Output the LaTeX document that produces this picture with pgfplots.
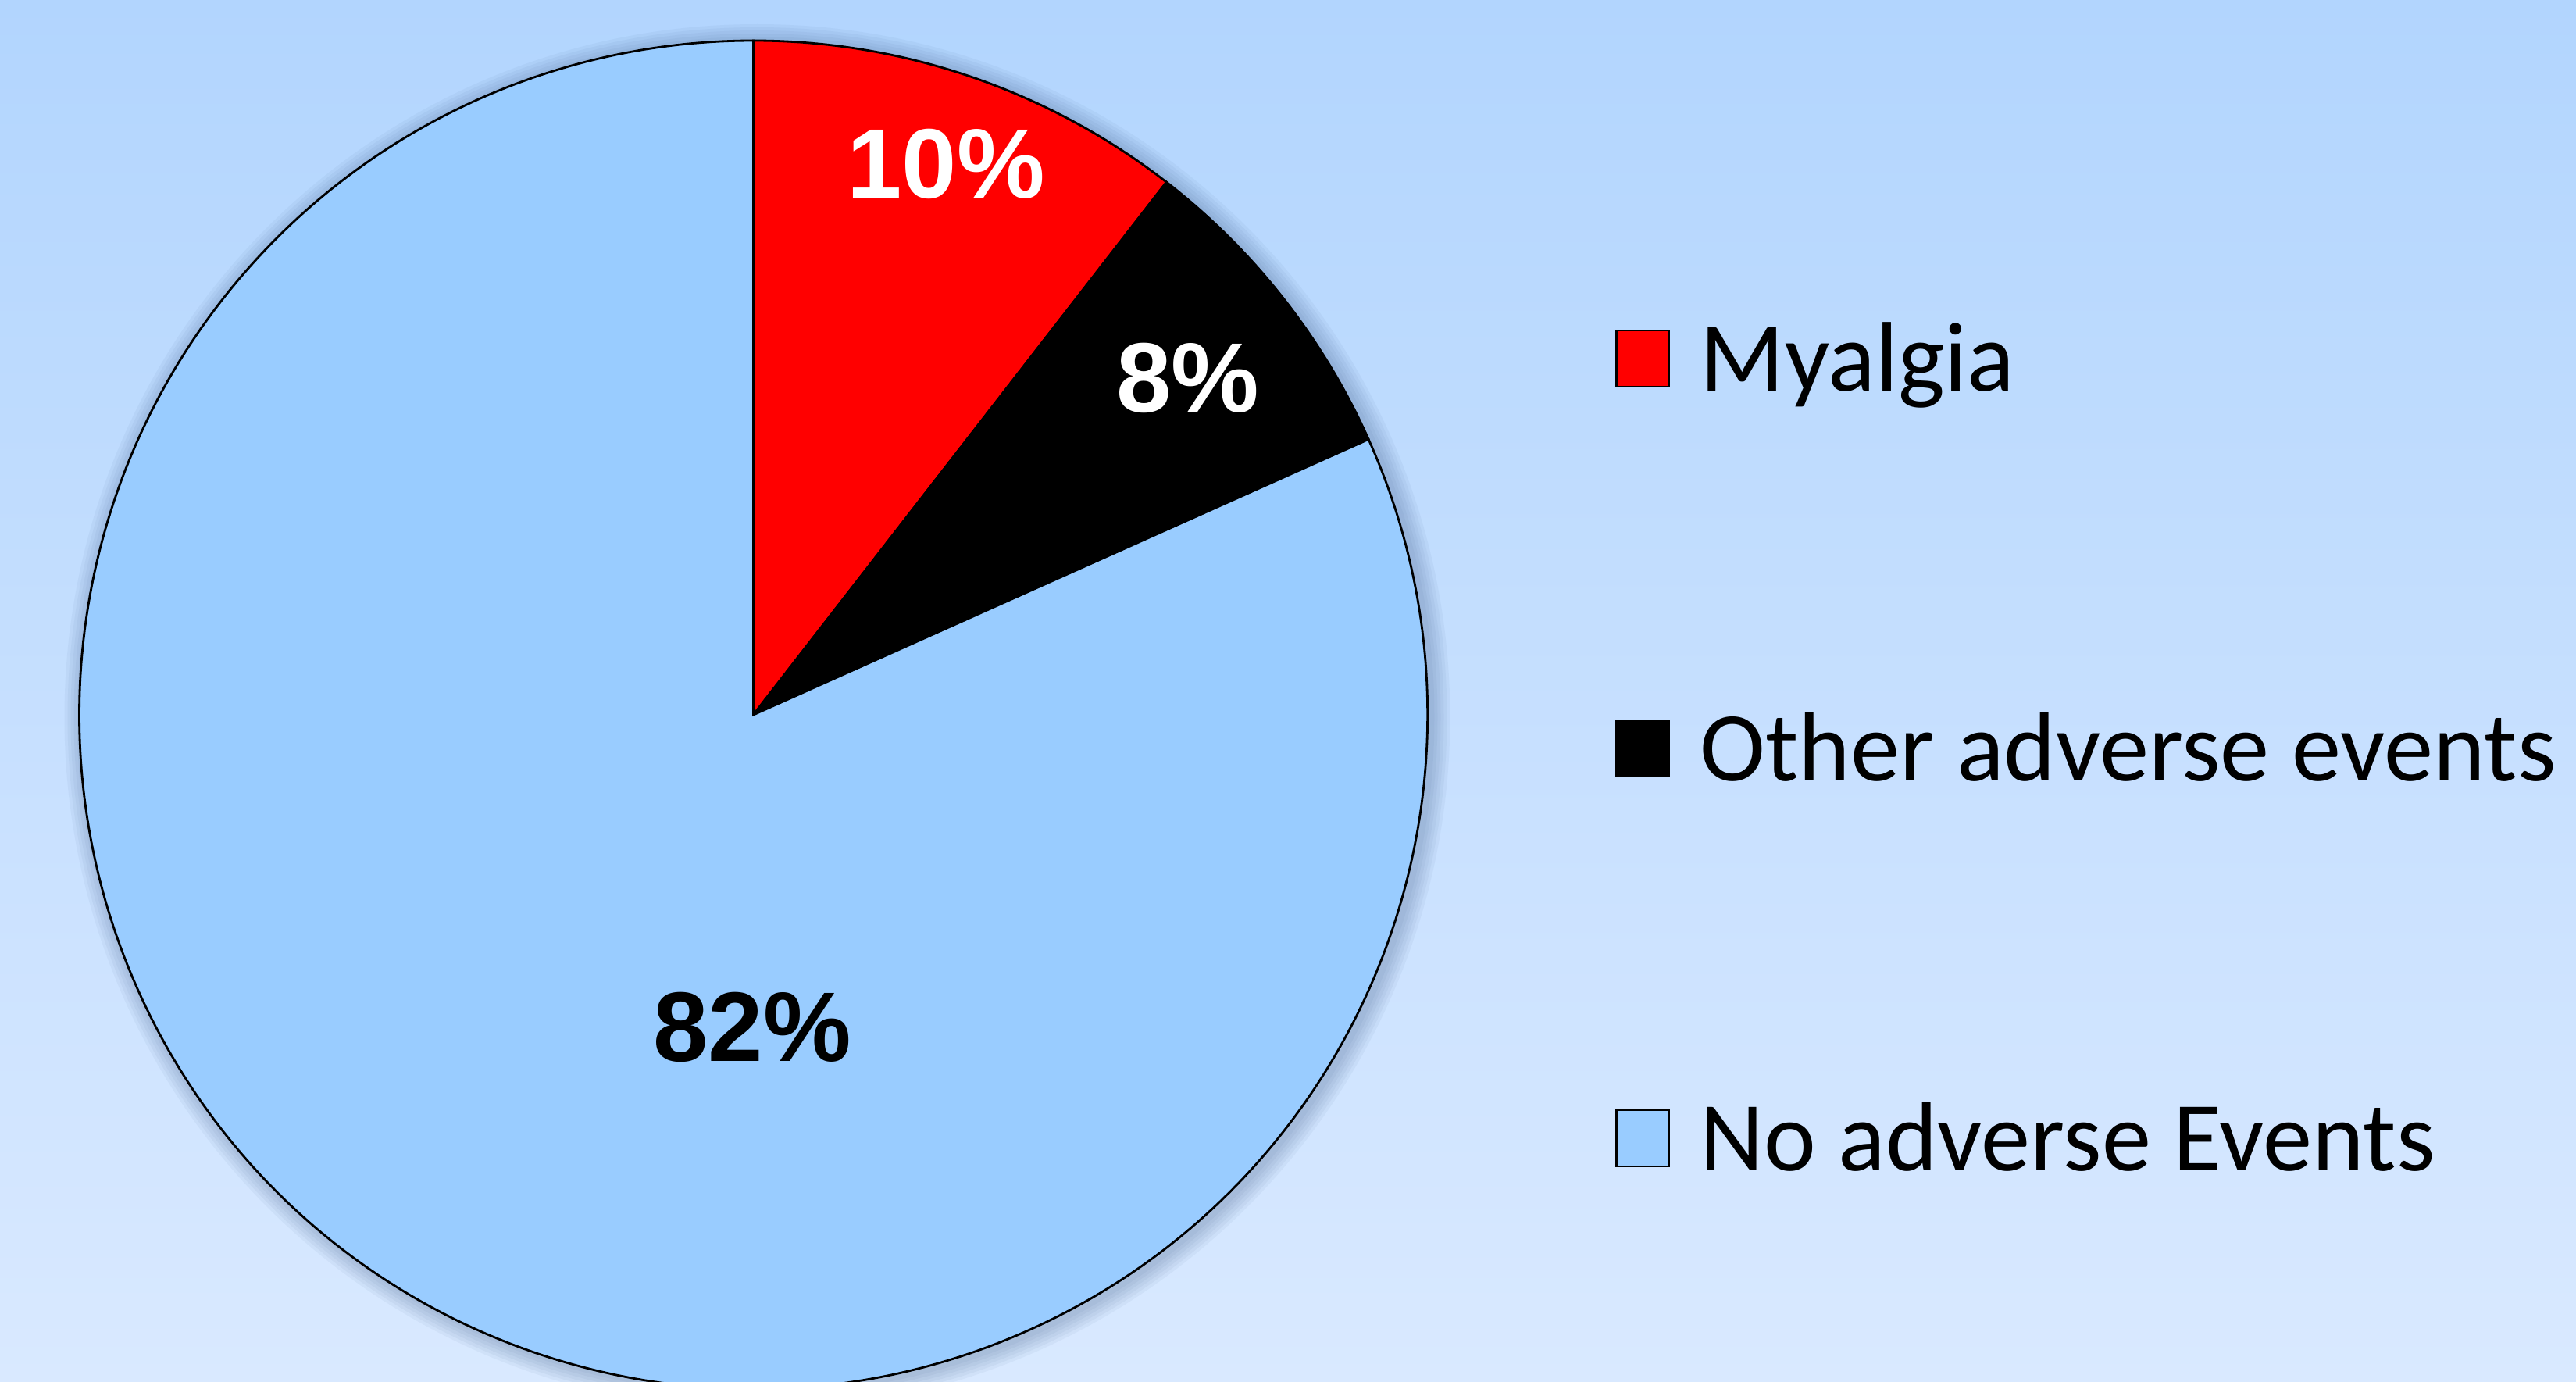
\documentclass[border=0pt]{standalone}
\usepackage{pgfplots}
\pgfplotsset{compat=1.18}
\usepackage{fontspec}
\newfontfamily\legendfont{Carlito}
\newfontfamily\labelfont{Liberation Sans}
\definecolor{bgtop}{RGB}{178,213,254}
\definecolor{bgbot}{RGB}{217,233,255}
\definecolor{pieblue}{RGB}{153,204,255}
\definecolor{shadowc}{RGB}{50,80,130}

\begin{document}
\begin{tikzpicture}
% background
\shade[top color=bgtop, bottom color=bgbot] (0,0) rectangle (32.98cm,17.68cm);
\begin{axis}[
    hide axis,
    x=1cm, y=1cm,
    xmin=0, xmax=32.98, ymin=0, ymax=17.68,
    clip mode=global,
    legend image code/.code={\draw[#1, line width=0.8pt] (0cm,-0.275cm) rectangle (0.67cm,0.445cm);},
    legend style={at={(axis cs:20.68,13.58)}, anchor=north west, draw=none, fill=none,
        inner sep=0pt, outer sep=0pt, row sep=3.84cm, column sep=0.39cm,
        font={\legendfont\fontsize{36}{43}\selectfont},
        nodes={inner sep=0pt, text height=0.9cm, text depth=0.25cm}},
    legend cell align=left,
]
% soft shadow round the pie
\pgfplotsinvokeforeach{1,...,6}{
  \fill[shadowc, opacity=0.05] (axis cs:9.695,8.50) circle[radius={8.63cm+#1*0.04cm}];
}
% slices: 10.5 %, 7.8 %, 81.7 %, clockwise from the top
\filldraw[fill=red, draw=black, line width=0.8pt]
  (axis cs:9.645,8.53) -- ++(90:8.63cm) arc[start angle=90, delta angle={-3.6*10.5}, radius=8.63cm] -- cycle;
\filldraw[fill=black, draw=black, line width=0.8pt]
  (axis cs:9.645,8.53) -- ++({90-3.6*10.5}:8.63cm) arc[start angle={90-3.6*10.5}, delta angle={-3.6*7.8}, radius=8.63cm] -- cycle;
\filldraw[fill=pieblue, draw=black, line width=0.8pt]
  (axis cs:9.645,8.53) -- ++({90-3.6*18.3}:8.63cm) arc[start angle={90-3.6*18.3}, delta angle={-3.6*81.7}, radius=8.63cm] -- cycle;

\addlegendimage{fill=red, draw=black}
\addlegendentry{Myalgia}
\addlegendimage{fill=black, draw=black}
\addlegendentry{Other adverse events}
\addlegendimage{fill=pieblue, draw=black}
\addlegendentry{No adverse Events}

\node[white, font={\labelfont\bfseries\fontsize{36}{43}\selectfont}] at (axis cs:12.11,15.58) {10\%};
\node[white, font={\labelfont\bfseries\fontsize{36}{43}\selectfont}] at (axis cs:15.21,12.84) {8\%};
\node[black, font={\labelfont\bfseries\fontsize{36}{43}\selectfont}] at (axis cs:9.63,4.53) {82\%};
\end{axis}
\pgfresetboundingbox
\path (0,0) rectangle (32.98cm,17.68cm);
\end{tikzpicture}
\end{document}
